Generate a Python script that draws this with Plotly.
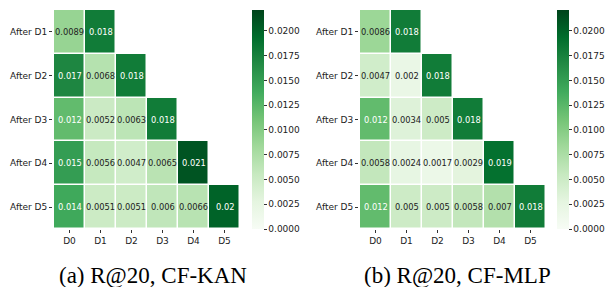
import plotly.graph_objects as go
import numpy as np

cols = ["D0", "D1", "D2", "D3", "D4", "D5"]
rows = ["After D1", "After D2", "After D3", "After D4", "After D5"]

kan = [
    [0.0089, 0.018, None, None, None, None],
    [0.017, 0.0068, 0.018, None, None, None],
    [0.012, 0.0052, 0.0063, 0.018, None, None],
    [0.015, 0.0056, 0.0047, 0.0065, 0.021, None],
    [0.014, 0.0051, 0.0051, 0.006, 0.0066, 0.02],
]
mlp = [
    [0.0086, 0.018, None, None, None, None],
    [0.0047, 0.002, 0.018, None, None, None],
    [0.012, 0.0034, 0.005, 0.018, None, None],
    [0.0058, 0.0024, 0.0017, 0.0029, 0.019, None],
    [0.012, 0.005, 0.005, 0.0058, 0.007, 0.018],
]
captions = ["(a) R@20, CF-KAN", "(b) R@20, CF-MLP"]
cbar_ticks = [0.0, 0.0025, 0.005, 0.0075, 0.01, 0.0125, 0.015, 0.0175, 0.02]

ZMIN, ZMAX = 0.0, 0.0221
greens = [(247,252,245),(229,245,224),(199,233,192),(161,217,155),(116,196,118),
          (65,171,93),(35,139,69),(0,109,44),(0,68,27)]
cscale = [[i/8, "rgb(%d,%d,%d)" % c] for i, c in enumerate(greens)]

def color_at(v):
    t = min(max((v - ZMIN) / (ZMAX - ZMIN), 0), 1) * 8
    i = min(int(t), 7)
    f = t - i
    a, b = np.array(greens[i]), np.array(greens[i+1])
    return a + (b - a) * f

def lum(rgb):
    c = np.array(rgb) / 255.0
    c = np.where(c <= 0.03928, c / 12.92, ((c + 0.055) / 1.055) ** 2.4)
    return 0.2126*c[0] + 0.7152*c[1] + 0.0722*c[2]

W, H = 607, 287
def px(x):
    return x / W
def py(y):
    return 1 - y / H

y0, y1 = py(229), py(10)
panels = [
    dict(data=kan, x0=px(53), x1=px(240), cbx=px(252), cap_x=px(153)),
    dict(data=mlp, x0=px(359), x1=px(546), cbx=px(557), cap_x=px(457)),
]

fig = go.Figure()
annotations = []
for k, p in enumerate(panels):
    xa = "x" if k == 0 else "x2"
    ya = "y" if k == 0 else "y2"
    z = [[np.nan if v is None else v for v in r] for r in p["data"]]
    fig.add_trace(go.Heatmap(
        z=z, x=cols, y=rows, xaxis=xa, yaxis=ya,
        colorscale=cscale, zmin=ZMIN, zmax=ZMAX, xgap=1.5, ygap=1.5,
        hoverongaps=False,
        colorbar=dict(x=p["cbx"], xanchor="left", xpad=0, ypad=0,
                      y=(y0+y1)/2, yanchor="middle", len=y1-y0, lenmode="fraction",
                      thickness=12, outlinewidth=0,
                      tickvals=cbar_ticks, ticktext=["%.4f" % t for t in cbar_ticks],
                      ticks="outside", ticklen=3, tickcolor="#333",
                      tickfont=dict(family="DejaVu Sans", size=9, color="#222")),
    ))
    for i, r in enumerate(p["data"]):
        for j, v in enumerate(r):
            if v is None:
                continue
            txtcol = "white" if lum(color_at(v)) < 0.408 else "#222"
            annotations.append(dict(x=cols[j], y=rows[i], xref=xa, yref=ya,
                                    text=format(v, ".2g"), showarrow=False,
                                    font=dict(family="DejaVu Sans", size=8.3, color=txtcol)))
    annotations.append(dict(x=p["cap_x"], y=py(275.5), xref="paper", yref="paper",
                            xanchor="center", yanchor="middle",
                            text=captions[k], showarrow=False,
                            font=dict(family="Liberation Serif", size=23, color="black")))

axis_common = dict(showgrid=False, zeroline=False, ticks="outside", ticklen=3,
                   tickcolor="#333", tickfont=dict(family="DejaVu Sans", size=9, color="#222"),
                   showline=False, automargin=False)
fig.update_layout(
    width=W, height=H, margin=dict(l=0, r=0, t=0, b=0, autoexpand=False),
    paper_bgcolor="white", plot_bgcolor="white",
    xaxis=dict(domain=[panels[0]["x0"], panels[0]["x1"]], anchor="y", **axis_common),
    yaxis=dict(domain=[y0, y1], anchor="x", autorange="reversed", **axis_common),
    xaxis2=dict(domain=[panels[1]["x0"], panels[1]["x1"]], anchor="y2", **axis_common),
    yaxis2=dict(domain=[y0, y1], anchor="x2", autorange="reversed", **axis_common),
    annotations=annotations,
)
fig.write_html("out.html", config={"displayModeBar": False},
               post_script="document.body.style.margin='0';document.body.style.overflow='hidden';")
